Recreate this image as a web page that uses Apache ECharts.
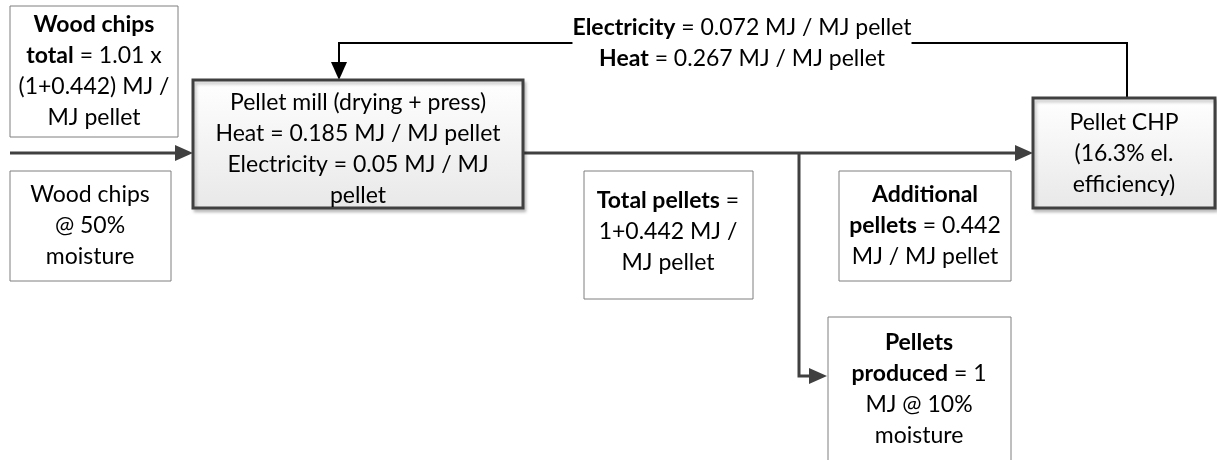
<!DOCTYPE html>
<html>
<head>
<meta charset="utf-8">
<script src="https://cdn.jsdelivr.net/npm/echarts@6/dist/echarts.min.js"></script>
<style>
  html, body { margin: 0; padding: 0; background: #fff; }
  #chart { width: 1217px; height: 460px; }
</style>
</head>
<body>
<div id="chart"></div>
<script>
// values
const chipFactor = 1.01
const additionalPellets = 0.442
const pelletsProduced = 1
const chipMoisture = 50
const pelletMoisture = 10
const millHeat = 0.185
const millElectricity = 0.05
const chpElecEfficiency = 16.3
const chpElectricity = 0.072
const chpHeat = 0.267

// box ids and their texts ({b|...} = bold)
const boxIds = ['chipsTotal', 'chipsIn', 'mill', 'chp', 'totalPellets', 'addPellets', 'produced']
const boxTexts = [
  '{b|Wood chips}\n{b|total} = ' + chipFactor.toFixed(2) + ' x\n(1+' + additionalPellets + ') MJ /\nMJ pellet',
  'Wood chips\n@ ' + chipMoisture + '%\nmoisture',
  'Pellet mill (drying + press)\nHeat = ' + millHeat + ' MJ / MJ pellet\nElectricity = ' + millElectricity + ' MJ / MJ\npellet',
  'Pellet CHP\n(' + chpElecEfficiency + '% el.\nefficiency)',
  '{b|Total pellets} =\n1+' + additionalPellets + ' MJ /\nMJ pellet',
  '{b|Additional}\n{b|pellets} = ' + additionalPellets + '\nMJ / MJ pellet',
  '{b|Pellets}\n{b|produced} = ' + pelletsProduced + '\nMJ @ ' + pelletMoisture + '%\nmoisture'
]
const feedbackText = '{b|Electricity} = ' + chpElectricity + ' MJ / MJ pellet\n{b|Heat} = ' + chpHeat + ' MJ / MJ pellet'

// layout (pixels): box rect and text centre
const layout = {
  chipsTotal: { rect: [10, 6, 168, 131], text: [94, 71], main: false },
  chipsIn: { rect: [10, 171, 161, 110], text: [90, 226], main: false },
  mill: { rect: [193, 80, 330, 128], text: [358, 149], main: true },
  chp: { rect: [1033, 98, 182, 110], text: [1124, 154], main: true },
  totalPellets: { rect: [584, 171, 169, 128], text: [668, 232], main: false },
  addPellets: { rect: [839, 171, 172, 110], text: [925, 226], main: false },
  produced: { rect: [828, 317, 183, 150], text: [919, 389], main: false }
}
const flows = [
  { points: [[10, 153], [193, 153]], color: '#404040', width: 3 },
  { points: [[523, 153], [1033, 153]], color: '#404040', width: 3 },
  { points: [[799, 153], [799, 376], [827, 376]], color: '#404040', width: 3 },
  { points: [[1127, 98], [1127, 43], [339, 43], [339, 80]], color: '#000', width: 2 }
]

const FONT = 'Lato, Carlito, "Open Sans", sans-serif'
const FS = 23
const LH = 31

function textStyle(text) {
  return {
    text: text,
    align: 'center',
    verticalAlign: 'middle',
    fontFamily: FONT,
    fontSize: FS,
    lineHeight: LH,
    fill: '#000',
    rich: {
      b: { fontFamily: FONT, fontSize: FS, fontWeight: 'bold', lineHeight: LH, fill: '#000' }
    }
  }
}

function arrowHead(p0, p1, len, half) {
  const dx = p1[0] - p0[0]
  const dy = p1[1] - p0[1]
  const d = Math.sqrt(dx * dx + dy * dy)
  const ux = dx / d
  const uy = dy / d
  const bx = p1[0] - ux * len
  const by = p1[1] - uy * len
  return [[p1[0], p1[1]], [bx - uy * half, by + ux * half], [bx + uy * half, by - ux * half]]
}

const elements = []
flows.forEach((f) => {
  const pts = f.points
  const n = pts.length
  const head = arrowHead(pts[n - 2], pts[n - 1], 18, 8)
  // stop the line at the base of the arrow head
  const line = pts.slice()
  line[n - 1] = [(head[1][0] + head[2][0]) / 2, (head[1][1] + head[2][1]) / 2]
  elements.push({
    type: 'polyline',
    shape: { points: line },
    style: { stroke: f.color, lineWidth: f.width, fill: null },
    z: 1
  })
  elements.push({
    type: 'polygon',
    shape: { points: head },
    style: { fill: f.color },
    z: 1
  })
})

boxIds.forEach((id, i) => {
  const l = layout[id]
  const [x, y, w, h] = l.rect
  elements.push({
    type: 'rect',
    shape: { x: x, y: y, width: w, height: h },
    style: l.main
      ? {
          fill: new echarts.graphic.LinearGradient(0, 0, 0, 1, [
            { offset: 0, color: '#ffffff' },
            { offset: 1, color: '#e8e8e8' }
          ]),
          stroke: '#404040',
          lineWidth: 3,
          shadowBlur: 3,
          shadowOffsetX: 2,
          shadowOffsetY: 3,
          shadowColor: 'rgba(0,0,0,0.2)'
        }
      : { fill: '#fff', stroke: '#7f7f7f', lineWidth: 1 },
    z: 2
  })
  elements.push({
    type: 'text',
    x: l.text[0],
    y: l.text[1],
    style: textStyle(boxTexts[i]),
    z: 3
  })
})

const fb = textStyle(feedbackText)
fb.backgroundColor = '#fff'
elements.push({ type: 'text', x: 742, y: 43, style: fb, z: 3 })

const chart = echarts.init(document.getElementById('chart'))
chart.setOption({
  animation: false,
  graphic: { elements: elements }
})
</script>
</body>
</html>
